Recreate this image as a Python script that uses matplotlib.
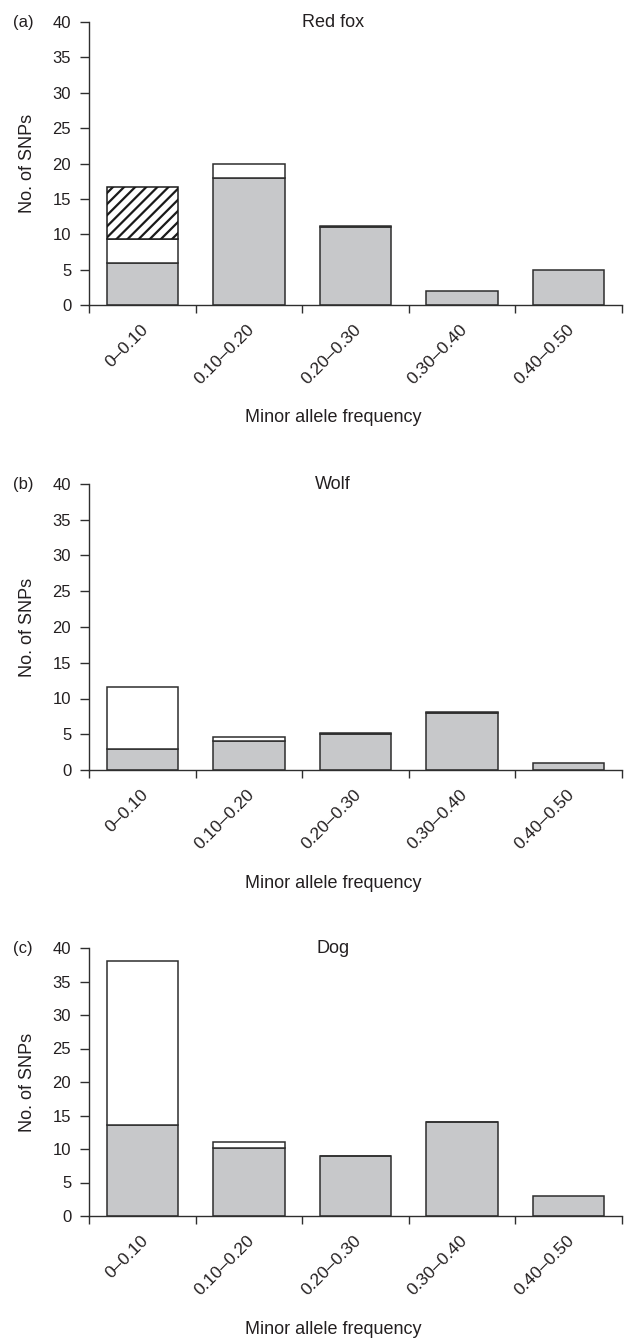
import numpy as np
import matplotlib
matplotlib.use('Agg')
import matplotlib.pyplot as plt

plt.rcParams['font.family'] = ['Liberation Sans', 'DejaVu Sans']
plt.rcParams['hatch.linewidth'] = 1.6

# data
bins = ['0\u20130.10', '0.10\u20130.20', '0.20\u20130.30', '0.30\u20130.40', '0.40\u20130.50']
panels = ['(a)', '(b)', '(c)']
species = ['Red fox', 'Wolf', 'Dog']

gray = [[6, 18, 11, 2, 5],
        [3, 4, 5, 8, 1],
        [13.6, 10.2, 8.9, 14, 3]]
white = [[3.3, 1.9, 0.12, 0, 0],
         [8.6, 0.6, 0.12, 0.12, 0],
         [24.4, 0.8, 0.12, 0.08, 0]]
hatched = [[7.4, 0, 0, 0, 0],
           [0, 0, 0, 0, 0],
           [0, 0, 0, 0, 0]]

# axes boxes in pixels (top, bottom)
W, H = 624, 1340
boxes = [(22, 305), (484, 770), (948, 1216)]
left, right = 89, 622

fill_gray = '#c7c8ca'
edge = '#2e2e2e'
text_col = '#231f20'

fig = plt.figure(figsize=(W / 100, H / 100), dpi=100)

x = np.arange(len(bins)) + 0.5
bw = 0.67

for i, (top, bot) in enumerate(boxes):
    ax = fig.add_axes([left / W, 1 - bot / H, (right - left) / W, (bot - top) / H])
    g = np.array(gray[i], dtype=float)
    w = np.array(white[i], dtype=float)
    h = np.array(hatched[i], dtype=float)

    ax.bar(x, g, width=bw, color=fill_gray, edgecolor=edge, linewidth=1.1, zorder=2)
    m = w > 0
    ax.bar(x[m], w[m], bottom=g[m], width=bw, color='white', edgecolor=edge, linewidth=1.1, zorder=2)
    m = h > 0
    ax.bar(x[m], h[m], bottom=(g + w)[m], width=bw, color='white', edgecolor='#1a1a1a',
           hatch='///', linewidth=1.1, zorder=2)

    ax.set_xlim(0, len(bins))
    ax.set_ylim(0, 40)
    ax.set_yticks(np.arange(0, 41, 5))
    ax.set_xticks(np.arange(0, len(bins) + 1))
    ax.set_xticklabels([])
    ax.set_xticks(x + 0.03, minor=True)
    ax.set_xticklabels(bins, minor=True, rotation=45, ha='right', va='center',
                       rotation_mode='anchor', fontsize=12.5, color=text_col)
    ax.tick_params(axis='x', which='minor', length=0, pad=16)
    ax.tick_params(axis='x', which='major', direction='out', length=6, width=1, color=edge)
    ax.tick_params(axis='y', direction='out', length=6.3, width=1, color=edge, pad=6.5,
                   labelsize=12, labelcolor=text_col)

    for s in ['top', 'right']:
        ax.spines[s].set_visible(False)
    for s in ['left', 'bottom']:
        ax.spines[s].set_linewidth(1.0)
        ax.spines[s].set_color(edge)

    hpx = bot - top
    ax.set_ylabel('No. of SNPs', fontsize=13, color=text_col)
    ax.yaxis.set_label_coords((36 - left) / (right - left), 0.5)
    ax.set_xlabel('Minor allele frequency', fontsize=13, color=text_col)
    ax.xaxis.label.set_va('center')
    ax.xaxis.set_label_coords((333 - left) / (right - left), -113 / hpx)

    ax.text((333 - left) / (right - left), 1 - 5 / hpx, species[i], transform=ax.transAxes,
            ha='center', va='baseline', fontsize=13, color=text_col)
    fig.text(13 / W, 1 - (top + 5) / H, panels[i], ha='left', va='baseline',
             fontsize=12, color=text_col)

fig.savefig('out.png', dpi=100)
